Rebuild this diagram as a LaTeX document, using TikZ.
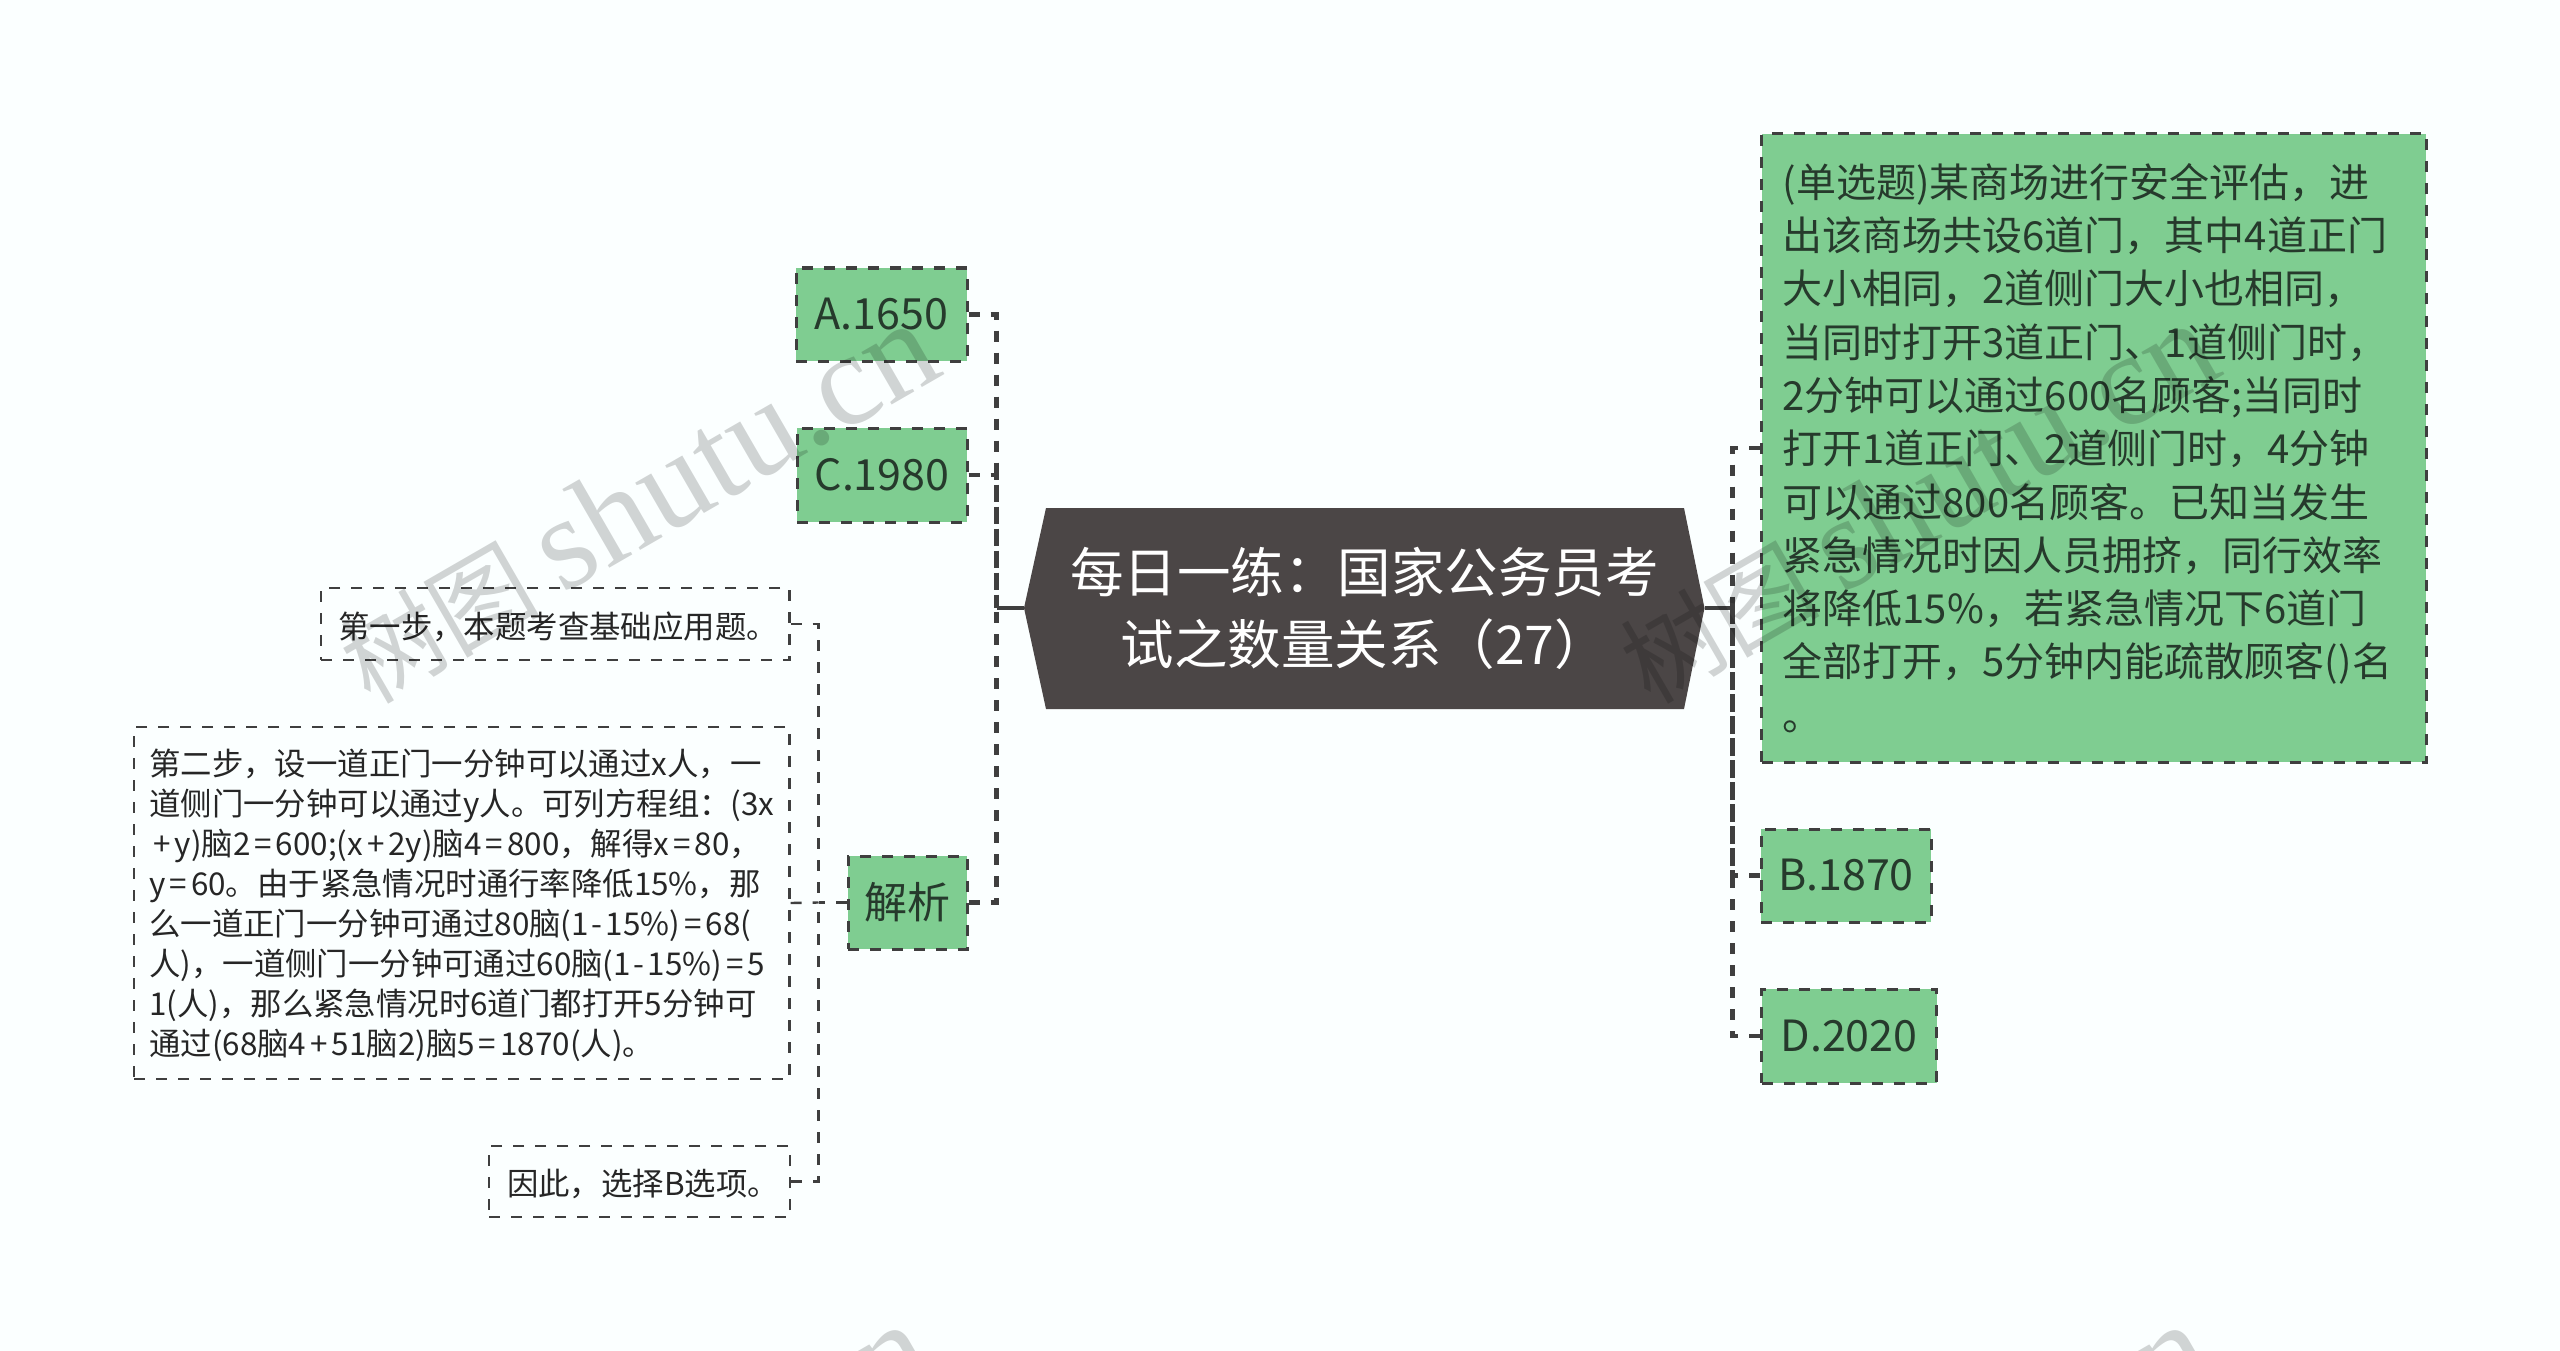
\documentclass[tikz,border=0pt]{standalone}
\usepackage{fontspec}
\setmainfont{Noto Sans CJK SC}
\newfontfamily\wmcjk{Noto Sans CJK SC}
\newfontfamily\wmlat{Liberation Serif}
\definecolor{bgc}{HTML}{FBFFFF}
\definecolor{greenf}{HTML}{7FCD91}
\definecolor{rootf}{HTML}{4B4646}
\definecolor{strokec}{HTML}{3F3F3F}
\definecolor{gtext}{HTML}{263A2C}
\definecolor{ltext}{HTML}{262626}
\tikzset{
  dashthick/.style={line width=3pt,dash pattern=on 11pt off 11pt},
  dashthin/.style={line width=2.4pt,dash pattern=on 11pt off 11pt},
  optbox/.style={draw=strokec,fill=greenf,dashthick,inner sep=0pt,text=gtext,solid},
  optb/.style={optbox,dashthick,font=\fontsize{43}{50}\selectfont,align=center},
  mainb/.style={optbox,dashthick,font=\fontsize{40}{53.3}\selectfont,align=left},
  subb/.style={draw=strokec,dashthin,inner sep=0pt,text=ltext,font=\fontsize{31.4}{40}\selectfont,align=left,execute at begin node={\rule{0pt}{32pt}}},
  linkA/.style={draw=strokec,line width=4.4pt,dash pattern=on 11pt off 11pt},
  linkB/.style={draw=strokec,line width=2.4pt,dash pattern=on 11pt off 11pt},
  rootlink/.style={draw=strokec,line width=4.4pt},
  rootn/.style={inner sep=0pt,text=white,font=\fontsize{53.5}{72}\selectfont,align=center},
  wm/.style={text=black,text opacity=.17,inner sep=0pt,rotate=30,anchor=base east,font=\fontsize{132}{132}\selectfont},
}
\newcommand{\wmtext}{{\wmcjk\fontsize{100}{100}\selectfont 树图}\,{\wmlat shutu.cn}}
\newcommand{\eqs}{\kern4pt=\kern4pt}
\newcommand{\pls}{\leavevmode\kern4pt+\kern4pt}
\newcommand{\mns}{\kern3pt-\kern3pt}
\begin{document}
\begin{tikzpicture}[x=1pt,y=-1pt]
\fill[bgc] (0,0) rectangle (2560,1351);
\useasboundingbox (0,0) rectangle (2560,1351);
% root
\fill[rootf] (1046,508) -- (1684,508) -- (1704.5,608) -- (1684,709) -- (1046,709) -- (1024,608) -- cycle;
\node[rootn,minimum width=680.5pt,minimum height=201pt] (root) at (1364.25,608) {每日一练：国家公务员考\\试之数量关系（27）};
\coordinate (hubL) at (996.5,608);
\coordinate (hubR) at (1732.5,608);
\coordinate (hubS) at (818.5,902.5);
% nodes
\node[optb,minimum width=171pt,minimum height=93pt] (a) at (881.5,314.5) {A.1650};
\node[optb,minimum width=170pt,minimum height=94pt] (c) at (882,475) {C.1980};
\node[optb,minimum width=119pt,minimum height=93pt] (jx) at (907.5,902.5) {解析};
\node[optb,minimum width=170pt,minimum height=93pt] (b) at (1846,875.5) {B.1870};
\node[optb,minimum width=175pt,minimum height=94pt] (d) at (1849,1036) {D.2020};
\node[mainb,minimum width=664.5pt,minimum height=628pt,text width=622pt] (q) at (2093.75,448) {(单选题)某商场进行安全评估，进\\出该商场共设6道门，其中4道正门\\大小相同，2道侧门大小也相同，\\当同时打开3道正门、1道侧门时，\\2分钟可以通过600名顾客;当同时\\打开1道正门、2道侧门时，4分钟\\可以通过800名顾客。已知当发生\\紧急情况时因人员拥挤，同行效率\\将降低15\%，若紧急情况下6道门\\全部打开，5分钟内能疏散顾客()名\\。};
\node[subb,minimum width=468.5pt,minimum height=72pt,text width=434pt] (s1) at (555.25,624) {第一步，本题考查基础应用题。};
\node[subb,minimum width=655.5pt,minimum height=352pt,text width=625pt] (s2) at (461.75,903) {第二步，设一道正门一分钟可以通过x人，一\\道侧门一分钟可以通过y人。可列方程组：(3x\\\pls y)脑2\eqs 600;(x\pls 2y)脑4\eqs 800，解得x\eqs 80，\\y\eqs 60。由于紧急情况时通行率降低15\%，那\\么一道正门一分钟可通过80脑(1\mns 15\%)\eqs 68(\\人)，一道侧门一分钟可通过60脑(1\mns 15\%)\eqs 5\\1(人)，那么紧急情况时6道门都打开5分钟可\\通过(68脑4\pls 51脑2)脑5\eqs 1870(人)。};
\node[subb,minimum width=301pt,minimum height=71pt,text width=265pt] (s3) at (639.5,1181.5) {因此，选择B选项。};
% connectors
\draw[rootlink] (root.west) -- (hubL);
\draw[rootlink] (root.east) -- (hubR);
\draw[linkA] (a.east) -| (hubL);
\draw[linkA] (c.east) -| (hubL);
\draw[linkA] (jx.east) -| (hubL);
\draw[linkA] (q.west |- 0,448) -| (hubR);
\draw[linkA] (b.west) -| (hubR);
\draw[linkA] (d.west) -| (hubR);
\draw[linkB] (jx.west) -- (hubS);
\draw[linkB] (s1.east) -| (hubS);
\draw[linkB] (s2.east) -- (hubS);
\draw[linkB] (s3.east) -| (hubS);
% watermarks
\node[wm] (w1) at (947,373) {\wmtext};
\node[wm] (w2) at (2227,373) {\wmtext};
\node[wm] (w3) at (940,1374) {\wmtext};
\node[wm] (w4) at (2220,1374) {\wmtext};
\end{tikzpicture}
\end{document}
